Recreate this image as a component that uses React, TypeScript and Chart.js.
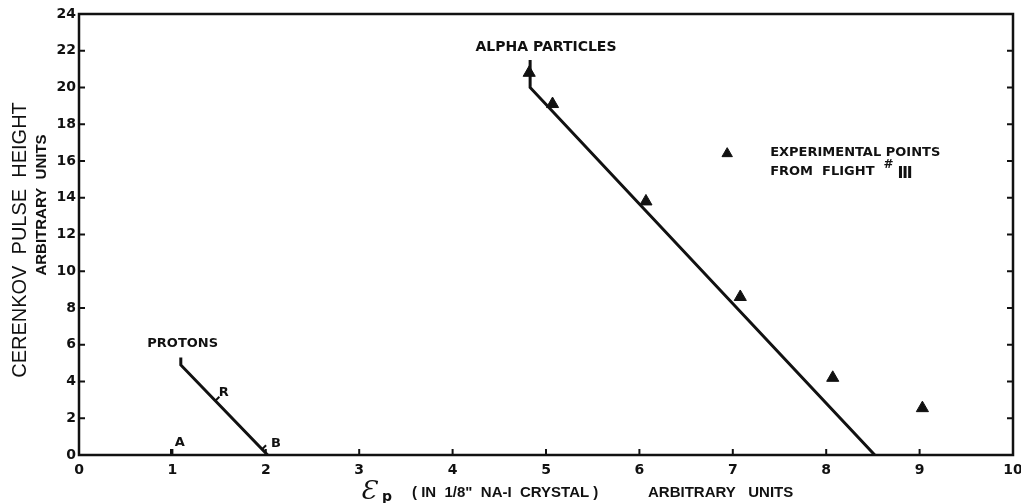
import React, { useEffect, useRef } from "react";
import { Chart, registerables } from "chart.js";
Chart.register(...registerables);

// ---- data ----
const xTicks = [0, 1, 2, 3, 4, 5, 6, 7, 8, 9, 10];
const yTicks = [0, 2, 4, 6, 8, 10, 12, 14, 16, 18, 20, 22, 24];

const alphaX = [4.83, 4.83, 8.52];
const alphaY = [21.5, 20.0, 0];

const protonX = [1.09, 1.09, 2.02];
const protonY = [5.3, 4.9, 0];

const expX = [4.82, 5.07, 6.07, 7.08, 8.07, 9.03];
const expY = [20.8, 19.1, 13.8, 8.6, 4.2, 2.55];

const legendMarkerX = [6.94];
const legendMarkerY = [16.4];

const labelTexts = ["ALPHA PARTICLES", "PROTONS", "A", "R", "B"];
const labelX = [5.0, 1.11, 1.08, 1.55, 2.11];
const labelY = [22.2, 6.04, 0.65, 3.37, 0.6];

const legendLines = ["EXPERIMENTAL POINTS", "FROM  FLIGHT"];
const legendTextX = [7.4, 7.4];
const legendTextY = [16.45, 15.4];

const zip = (xs: number[], ys: number[]) => xs.map((x, i) => ({ x, y: ys[i] }));

const INK = "#111";
const TICK_FONT = "DejaVu Sans";

const decor = {
  id: "decor",
  afterDraw(chart: any) {
    const ctx: CanvasRenderingContext2D = chart.ctx;
    const xs = chart.scales.x;
    const ys = chart.scales.y;
    const { left, right, top, bottom } = chart.chartArea;
    ctx.save();
    // frame
    ctx.strokeStyle = INK;
    ctx.lineWidth = 2.5;
    ctx.strokeRect(left, top, right - left, bottom - top);
    // inward ticks
    ctx.lineWidth = 2;
    xTicks.forEach((v) => {
      const px = xs.getPixelForValue(v);
      ctx.beginPath();
      ctx.moveTo(px, bottom);
      ctx.lineTo(px, bottom - 6);
      ctx.stroke();
    });
    yTicks.forEach((v) => {
      const py = ys.getPixelForValue(v);
      ctx.beginPath();
      ctx.moveTo(left, py);
      ctx.lineTo(left + 6, py);
      ctx.moveTo(right, py);
      ctx.lineTo(right - 6, py);
      ctx.stroke();
    });
    // small marks at A, R, B
    const ax = xs.getPixelForValue(0.985);
    ctx.beginPath();
    ctx.moveTo(ax, bottom);
    ctx.lineTo(ax, bottom - 6);
    ctx.stroke();
    const lineAt = (xv: number) => {
      const t = (xv - protonX[1]) / (protonX[2] - protonX[1]);
      return protonY[1] + t * (protonY[2] - protonY[1]);
    };
    [1.46, 1.96].forEach((xv) => {
      const px = xs.getPixelForValue(xv);
      const py = ys.getPixelForValue(lineAt(xv));
      ctx.beginPath();
      ctx.moveTo(px, py);
      ctx.lineTo(px + 4, py - 4);
      ctx.stroke();
    });

    // annotation labels
    ctx.fillStyle = INK;
    ctx.textBaseline = "middle";
    ctx.textAlign = "center";
    labelTexts.forEach((t, i) => {
      ctx.font = i === 0 ? "bold 14px 'DejaVu Sans'" : "bold 13px 'DejaVu Sans'";
      ctx.fillText(t, xs.getPixelForValue(labelX[i]), ys.getPixelForValue(labelY[i]));
    });
    // legend text
    ctx.textAlign = "left";
    ctx.font = "bold 13px 'DejaVu Sans'";
    legendLines.forEach((t, i) => {
      ctx.fillText(t, xs.getPixelForValue(legendTextX[i]), ys.getPixelForValue(legendTextY[i]));
    });
    {
      ctx.font = "bold 13px 'DejaVu Sans'";
      const baseX = xs.getPixelForValue(legendTextX[1]) + ctx.measureText(legendLines[1]).width + 9;
      const baseY = ys.getPixelForValue(legendTextY[1]);
      ctx.font = "bold 12px 'DejaVu Sans'";
      ctx.fillText("#", baseX, baseY - 7);
      ctx.font = "bold 16px 'DejaVu Sans'";
      ctx.fillText("Ⅲ", baseX + 14, baseY + 2);
    }

    // y axis titles
    ctx.textAlign = "center";
    ctx.save();
    ctx.translate(20, 240);
    ctx.rotate(-Math.PI / 2);
    ctx.font = "20px 'Liberation Sans'";
    ctx.fillText("CERENKOV  PULSE  HEIGHT", 0, 0);
    ctx.restore();
    ctx.save();
    ctx.translate(42, 205);
    ctx.rotate(-Math.PI / 2);
    ctx.font = "bold 15px 'Liberation Sans'";
    ctx.fillText("ARBITRARY  UNITS", 0, 0);
    ctx.restore();

    // x axis title
    ctx.textAlign = "left";
    ctx.textBaseline = "alphabetic";
    ctx.font = "italic 26px 'DejaVu Serif'";
    ctx.fillText("Ɛ", 360, 499);
    ctx.font = "bold 14px 'DejaVu Sans'";
    ctx.fillText("p", 382, 501);
    ctx.font = "bold 15px 'Liberation Sans'";
    ctx.fillText("( IN  1/8\"  NA-I  CRYSTAL )", 412, 497);
    ctx.fillText("ARBITRARY   UNITS", 648, 497);
    ctx.restore();
  },
};

export default function App() {
  const ref = useRef<HTMLCanvasElement>(null);
  useEffect(() => {
    if (!ref.current) return;
    const chart = new Chart(ref.current, {
      type: "scatter",
      data: {
        datasets: [
          {
            label: "Alpha particles",
            data: zip(alphaX, alphaY),
            showLine: true,
            borderColor: INK,
            borderWidth: 3,
            pointRadius: 0,
            tension: 0,
          },
          {
            label: "Protons",
            data: zip(protonX, protonY),
            showLine: true,
            borderColor: INK,
            borderWidth: 3,
            pointRadius: 0,
            tension: 0,
          },
          {
            label: "Experimental points from flight III",
            data: zip(expX, expY),
            pointStyle: "triangle",
            pointRadius: 7,
            backgroundColor: INK,
            borderColor: INK,
            borderWidth: 1,
          },
          {
            label: "legend marker",
            data: zip(legendMarkerX, legendMarkerY),
            pointStyle: "triangle",
            pointRadius: 6,
            backgroundColor: INK,
            borderColor: INK,
            borderWidth: 1,
          },
        ],
      },
      options: {
        animation: false,
        responsive: false,
        maintainAspectRatio: false,
        layout: { padding: { top: 14, right: 8, left: 0, bottom: 0 } },
        plugins: { legend: { display: false }, tooltip: { enabled: false }, title: { display: false } },
        scales: {
          x: {
            type: "linear",
            min: 0,
            max: 10,
            afterBuildTicks: (s: any) => {
              s.ticks = xTicks.map((v) => ({ value: v }));
            },
            afterFit: (s: any) => {
              s.height = 48;
              s.paddingRight = 0;
              s.paddingLeft = 0;
            },
            ticks: {
              color: INK,
              padding: 7,
              maxRotation: 0,
              autoSkip: false,
              font: { family: TICK_FONT, size: 14, weight: "bold" },
              callback: (v: any) => String(v),
            },
            grid: { display: false, drawTicks: false },
            border: { display: false },
          },
          y: {
            type: "linear",
            min: 0,
            max: 24,
            afterBuildTicks: (s: any) => {
              s.ticks = yTicks.map((v) => ({ value: v }));
            },
            afterFit: (s: any) => {
              s.width = 79;
            },
            ticks: {
              color: INK,
              padding: 3,
              font: { family: TICK_FONT, size: 14, weight: "bold" },
              callback: (v: any) => String(v),
            },
            grid: { display: false, drawTicks: false },
            border: { display: false },
          },
        },
      },
      plugins: [decor],
    } as any);
    return () => chart.destroy();
  }, []);
  return (
    <div style={{ position: "fixed", left: 0, top: 0, width: 1021, height: 503, background: "#fff" }}>
      <canvas ref={ref} width={1021} height={503} style={{ display: "block" }} />
    </div>
  );
}
